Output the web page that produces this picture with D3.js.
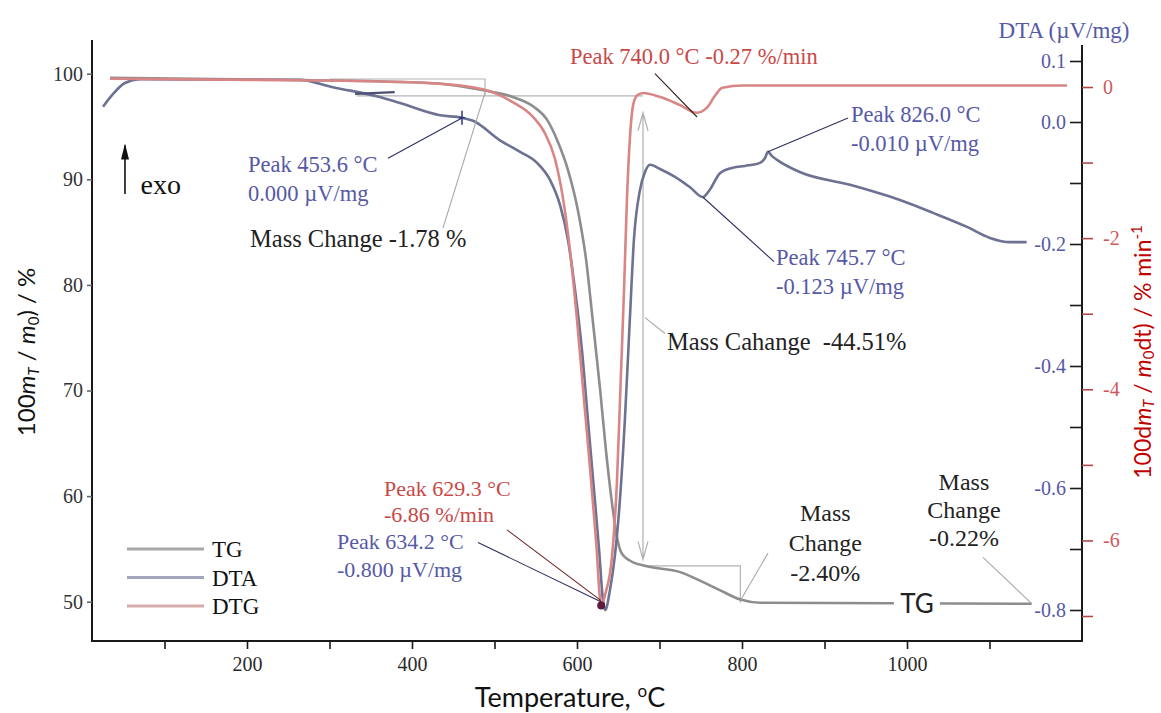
<!DOCTYPE html>
<html>
<head>
<meta charset="utf-8">
<script src="https://cdn.jsdelivr.net/npm/d3@7"></script>
<style>
  body { margin: 0; background: #fff; }
  text { font-family: "Liberation Serif", "Times New Roman", serif; }
  .sans { font-family: Lato, "Open Sans", sans-serif; }
</style>
</head>
<body>
<svg id="chart" width="1161" height="713"></svg>
<script>
// ======================================================================
// DATA
// ======================================================================

// TG, mass in %
const tgTemp = [34, 264, 425, 488, 522, 547, 564, 576, 589, 601, 611, 619, 628, 635, 642, 648, 654, 664, 682, 725, 749, 773, 798, 822, 1151];
const tgMass = [99.6, 99.4, 99.1, 98.4, 97.8, 96.9, 95.6, 93.7, 90.9, 87.1, 82.4, 76.7, 70.1, 64.4, 59.6, 56.3, 54.6, 53.9, 53.4, 52.8, 52.0, 51.1, 50.2, 49.9, 49.8];

// DTA, uV/mg
const dtaTemp = [25.5, 36.4, 52, 70, 264, 304, 361, 385.5, 434, 460.6, 474, 506.7, 531, 551.5, 567.3, 579.4, 589, 597.6, 606, 613.3, 620.6, 626.7, 631.5, 634.2, 640, 646, 652, 658, 664, 669, 676.4, 682.4, 688.5, 700.6, 718.8, 737, 752.7, 761, 773.3, 789, 803.6, 821.8, 827.9, 831.5, 836.4, 842.4, 870, 931, 991.5, 1031.5, 1072.7, 1100.6, 1125, 1145];
const dtaVal = [0.025, 0.044, 0.064, 0.070, 0.069, 0.057, 0.041, 0.031, 0.011, 0.007, 0.002, -0.030, -0.049, -0.067, -0.095, -0.136, -0.193, -0.275, -0.374, -0.489, -0.603, -0.700, -0.784, -0.800, -0.767, -0.71, -0.62, -0.489, -0.325, -0.193, -0.111, -0.082, -0.070, -0.077, -0.090, -0.107, -0.123, -0.111, -0.084, -0.075, -0.072, -0.067, -0.059, -0.049, -0.056, -0.062, -0.082, -0.103, -0.128, -0.149, -0.172, -0.190, -0.197, -0.197];
// short loose DTA piece near 350 C
const dtaStubTemp = [331, 379];
const dtaStubVal = [0.046, 0.049];

// DTG, %/min
const dtgTemp = [34, 264, 425, 486, 522, 547, 561, 573, 583, 591.5, 600, 608.5, 616, 623, 629.3, 635, 642, 648.5, 653, 657, 660.5, 664, 668, 673, 680, 700, 725, 745, 757, 767, 776, 801, 1194];
const dtgVal = [0.11, 0.09, 0.05, -0.03, -0.20, -0.40, -0.61, -0.94, -1.47, -2.16, -3.08, -4.14, -5.07, -5.99, -6.86, -6.68, -6.26, -5.20, -3.88, -2.69, -1.50, -0.70, -0.24, -0.11, -0.08, -0.13, -0.24, -0.34, -0.28, -0.12, -0.01, 0.02, 0.02];

// axis ticks
const xTicks = [100, 200, 300, 400, 500, 600, 700, 800, 900, 1000, 1100];
const xLabels = [200, 400, 600, 800, 1000];
const tgTicks = [50, 60, 70, 80, 90, 100];
const dtaTicks = [0.1, 0, -0.1, -0.2, -0.3, -0.4, -0.5, -0.6, -0.7, -0.8];
const dtaLabels = ["0.1", "0.0", "-0.2", "-0.4", "-0.6", "-0.8"];
const dtgTicks = [0, -1, -2, -3, -4, -5, -6, -7];
const dtgLabels = [0, -2, -4, -6];

const seriesNames = ["TG", "DTA", "DTG"];

// ======================================================================
// SETUP
// ======================================================================

const blue = "#5659a6";
const red = "#c94848";
const colors = { TG: "#8d8d8d", DTA: "#6d7192", DTG: "#d98585" };
const legendColors = { TG: "#a8a8a8", DTA: "#a3a5bb", DTG: "#d6abab" };

const box = { left: 92, right: 1082, top: 40, bottom: 641 };

const x = d3.scaleLinear().domain([200, 1000]).range([247, 907]);
const yTG = d3.scaleLinear().domain([50, 100]).range([601.7, 73.7]);
const yDTA = d3.scaleLinear().domain([-0.8, 0.1]).range([610, 61]);
const yDTG = d3.scaleLinear().domain([-7, 0]).range([616, 87]);

const svg = d3.select("#chart");

// ======================================================================
// ANNOTATIONS (placed in temperature / TG% units)
// ======================================================================

const brackets = [
  [[300, 99.5], [488.5, 99.5], [488.5, 97.9]],
  [[333, 97.9], [680, 97.9]],
  [[680, 53.4], [798, 53.4], [798, 49.9]],
];

const leaders = [
  { a: [370.9, 92.0], b: [460.6, 95.8], c: "#2d3060" },
  { a: [928.5, 95.8], b: [831.5, 92.6], c: "#2d3060" },
  { a: [838.8, 82.2], b: [752.7, 88.3], c: "#2d3060" },
  { a: [480, 55.6], b: [631.5, 49.9], c: "#2d3060" },
  { a: [694.5, 100.0], b: [745.5, 95.9], c: "#3a2020" },
  { a: [515.2, 56.8], b: [629.1, 50.1], c: "#6a2525" },
  { a: [437.6, 85.4], b: [488.5, 98.2], c: "#a8a8a8" },
  { a: [706.7, 75.4], b: [682.4, 76.9], c: "#a8a8a8" },
  { a: [831.5, 54.6], b: [798.8, 50.2], c: "#a8a8a8" },
  { a: [1092.1, 54.2], b: [1151.5, 49.8], c: "#a8a8a8" },
];

// fs: font size, lh: line height
const notes = [
  { t: 201.2, v: 90.7, lines: ["Peak 453.6 °C", "0.000 µV/mg"], c: blue, fs: 22.5, lh: 29 },
  { t: 203.6, v: 83.6, lines: ["Mass Change -1.78 %"], c: "#222", fs: 24.5, lh: 30 },
  { t: 591.5, v: 100.9, lines: ["Peak 740.0 °C -0.27 %/min"], c: red, fs: 22.5, lh: 29 },
  { t: 932.1, v: 95.4, lines: ["Peak 826.0 °C", "-0.010 µV/mg"], c: blue, fs: 22.5, lh: 29 },
  { t: 841.2, v: 81.9, lines: ["Peak 745.7 °C", "-0.123 µV/mg"], c: blue, fs: 22.5, lh: 29 },
  { t: 709.1, v: 73.8, lines: ["Mass Cahange  -44.51%"], c: "#222", fs: 24.5, lh: 30 },
  { t: 366.1, v: 60.01, lines: ["Peak 629.3 °C", "-6.86 %/min"], c: red, fs: 22, lh: 26 },
  { t: 309.1, v: 54.99, lines: ["Peak 634.2 °C", "-0.800 µV/mg"], c: blue, fs: 22, lh: 28 },
  { t: 901.0, v: 57.6, lines: ["Mass", "Change", "-2.40%"], c: "#222", fs: 24, lh: 30, mid: true },
  { t: 1069.0, v: 60.6, lines: ["Mass", "Change", "-0.22%"], c: "#222", fs: 24, lh: 28, mid: true },
];

// ======================================================================
// DRAW
// ======================================================================

// mass-change brackets
const pt = (d) => [x(d[0]), yTG(d[1])];
svg.append("g")
  .selectAll("path")
  .data(brackets)
  .join("path")
  .attr("d", (d) => d3.line()(d.map(pt)))
  .attr("fill", "none")
  .attr("stroke", "#b4b4b4")
  .attr("stroke-width", 1.2);

// double arrow for -44.51 %
const ax = x(680), ay1 = yTG(96.3), ay2 = yTG(54.0);
svg.append("path")
  .attr("d", `M${ax},${ay1}V${ay2}M${ax - 5},${ay1 + 18}L${ax},${ay1}L${ax + 5},${ay1 + 18}M${ax - 5},${ay2 - 18}L${ax},${ay2}L${ax + 5},${ay2 - 18}`)
  .attr("fill", "none")
  .attr("stroke", "#b0b0b0")
  .attr("stroke-width", 1.2);

// curves
const lineOf = (xs, ys, yScale) =>
  d3.line().curve(d3.curveMonotoneX)(d3.zip(xs, ys).map((d) => [x(d[0]), yScale(d[1])]));

svg.append("path").attr("d", lineOf(tgTemp, tgMass, yTG))
  .attr("fill", "none").attr("stroke", colors.TG).attr("stroke-width", 2.6);
svg.append("path").attr("d", lineOf(dtaTemp, dtaVal, yDTA))
  .attr("fill", "none").attr("stroke", colors.DTA).attr("stroke-width", 2.6);
svg.append("path").attr("d", lineOf(dtaStubTemp, dtaStubVal, yDTA))
  .attr("fill", "none").attr("stroke", "#4c5072").attr("stroke-width", 2.2);
svg.append("path").attr("d", lineOf(dtgTemp, dtgVal, yDTG))
  .attr("fill", "none").attr("stroke", colors.DTG).attr("stroke-width", 2.6);

// leaders
svg.append("g")
  .selectAll("line")
  .data(leaders)
  .join("line")
  .attr("x1", (d) => x(d.a[0])).attr("y1", (d) => yTG(d.a[1]))
  .attr("x2", (d) => x(d.b[0])).attr("y2", (d) => yTG(d.b[1]))
  .attr("stroke", (d) => d.c)
  .attr("stroke-width", 1.1);

// peak markers
const pk = [x(dtaTemp[9]), yDTA(dtaVal[9])];
svg.append("path")
  .attr("d", `M${pk[0]},${pk[1] - 7}V${pk[1] + 7}M${pk[0] - 3},${pk[1]}H${pk[0] + 3}`)
  .attr("stroke", "#303580").attr("stroke-width", 1.5);
svg.append("circle")
  .attr("cx", x(dtgTemp[14])).attr("cy", yDTG(dtgVal[14])).attr("r", 4)
  .attr("fill", "#5e1d3c");

// notes
notes.forEach((n) => {
  const t = svg.append("text")
    .attr("fill", n.c)
    .attr("font-size", n.fs)
    .attr("text-anchor", n.mid ? "middle" : "start")
    .style("white-space", "pre")
    .attr("y", yTG(n.v));
  n.lines.forEach((s, i) =>
    t.append("tspan").attr("x", x(n.t)).attr("dy", i ? n.lh : 0).text(s)
  );
});

// "TG" label on the flat TG tail
const tgLab = [x(1012), yTG(49.85)];
svg.append("rect")
  .attr("x", tgLab[0] - 23).attr("y", tgLab[1] - 12)
  .attr("width", 46).attr("height", 24).attr("fill", "#fff");
svg.append("text").attr("class", "sans")
  .attr("x", tgLab[0]).attr("y", tgLab[1]).attr("dy", "0.36em")
  .attr("text-anchor", "middle").attr("font-size", 26).attr("fill", "#222")
  .text("TG");

// exo arrow
const ex = x(52.1), eyB = yTG(88.6), eyT = yTG(93.2);
svg.append("path")
  .attr("d", `M${ex},${eyB}V${eyT}`)
  .attr("stroke", "#111").attr("stroke-width", 1.6);
svg.append("path")
  .attr("d", `M${ex},${eyT - 2}L${ex - 4},${eyT + 14}L${ex + 4},${eyT + 14}Z`)
  .attr("fill", "#111");
svg.append("text").attr("x", x(71)).attr("y", eyB)
  .attr("font-size", 28).attr("fill", "#111").text("exo");

// legend
const legend = svg.append("g").attr("transform", "translate(127,549)");
seriesNames.forEach((s, i) => {
  legend.append("line")
    .attr("x1", 0).attr("x2", 77).attr("y1", i * 28.5).attr("y2", i * 28.5)
    .attr("stroke", legendColors[s]).attr("stroke-width", 3);
  legend.append("text")
    .attr("x", 85).attr("y", i * 28.5 + 8)
    .attr("font-size", 23).attr("fill", "#111").text(s);
});

// ======================================================================
// AXES
// ======================================================================

svg.append("path")
  .attr("d", `M${box.left},${box.top}V${box.bottom}H${box.right}V${box.top + 5}`)
  .attr("fill", "none").attr("stroke", "#1a1a1a").attr("stroke-width", 2);

const styleAxis = (g, color, tickColor) => {
  g.select(".domain").remove();
  g.selectAll(".tick line").attr("stroke", tickColor).attr("stroke-width", 1.6);
  g.selectAll(".tick text")
    .attr("fill", color)
    .attr("font-size", 20)
    .attr("font-family", "Liberation Serif, serif");
};

svg.append("g")
  .attr("transform", `translate(0,${box.bottom})`)
  .call(d3.axisBottom(x).tickValues(xTicks).tickSize(8).tickPadding(8)
    .tickFormat((d) => (xLabels.includes(d) ? d : "")))
  .call((g) => styleAxis(g, "#2a2a2a", "#1a1a1a"));

svg.append("g")
  .attr("transform", `translate(${box.left},0)`)
  .call(d3.axisLeft(yTG).tickValues(tgTicks).tickSize(5).tickPadding(4))
  .call((g) => styleAxis(g, "#333", "#666"));

svg.append("g")
  .attr("transform", `translate(${box.right},0)`)
  .call(d3.axisLeft(yDTA).tickValues(dtaTicks).tickSize(12).tickPadding(4)
    .tickFormat((d) => (dtaLabels.includes(d.toFixed(1)) ? d.toFixed(1) : "")))
  .call((g) => styleAxis(g, blue, "#1a1a1a"));

svg.append("g")
  .attr("transform", `translate(${box.right},0)`)
  .call(d3.axisRight(yDTG).tickValues(dtgTicks).tickSize(11).tickPadding(10)
    .tickFormat((d) => (dtgLabels.includes(d) ? String(d) : "")))
  .call((g) => styleAxis(g, "#d05a5a", "#b04a4a"));

svg.append("text")
  .attr("x", 1064).attr("y", 38).attr("text-anchor", "middle")
  .attr("font-size", 23).attr("fill", blue).text("DTA (µV/mg)");

// axis titles
const xt = svg.append("text").attr("class", "sans")
  .attr("x", 570).attr("y", 707).attr("text-anchor", "middle")
  .attr("font-size", 27).attr("fill", "#111");
xt.append("tspan").text("Temperature, ");
xt.append("tspan").attr("font-size", 17).attr("dy", -10).text("o");
xt.append("tspan").attr("dy", 10).text("C");

const yl = svg.append("text").attr("class", "sans")
  .attr("transform", "translate(35,352) rotate(-90)")
  .attr("text-anchor", "middle").attr("font-size", 24).attr("fill", "#111");
yl.append("tspan").text("100");
yl.append("tspan").attr("font-style", "italic").text("m");
yl.append("tspan").attr("font-style", "italic").attr("font-size", 15).attr("dy", 4).text("T");
yl.append("tspan").attr("dy", -4).text(" / ");
yl.append("tspan").attr("font-style", "italic").text("m");
yl.append("tspan").attr("font-size", 15).attr("dy", 4).text("0");
yl.append("tspan").attr("dy", -4).text(") / %");

const yr = svg.append("text").attr("class", "sans")
  .attr("transform", "translate(1151,352) rotate(-90)")
  .attr("text-anchor", "middle").attr("font-size", 23).attr("fill", "#c00000");
yr.append("tspan").text("100d");
yr.append("tspan").attr("font-style", "italic").text("m");
yr.append("tspan").attr("font-style", "italic").attr("font-size", 15).attr("dy", 3).text("T");
yr.append("tspan").attr("dy", -3).text(" / ");
yr.append("tspan").attr("font-style", "italic").text("m");
yr.append("tspan").attr("font-size", 15).attr("dy", 3).text("0");
yr.append("tspan").attr("dy", -3).text("dt) / % min");
yr.append("tspan").attr("font-size", 15).attr("dy", -9).text("-1");
</script>
</body>
</html>
